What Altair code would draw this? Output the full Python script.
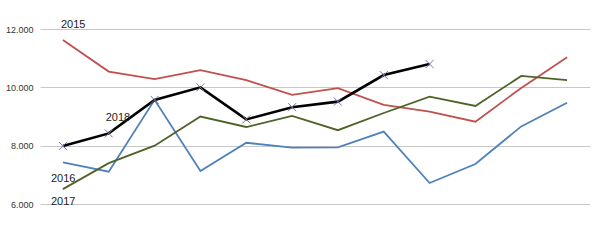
import altair as alt
import pandas as pd

months = list(range(1, 13))
s2015 = [11620, 10540, 10280, 10590, 10250, 9740, 9970, 9400, 9170, 8820, 9980, 11030]
s2016 = [7430, 7110, 9570, 7130, 8100, 7930, 7940, 8480, 6720, 7370, 8660, 9470]
s2017 = [6510, 7400, 8000, 9000, 8640, 9020, 8530, 9120, 9680, 9360, 10390, 10250]
s2018 = [7990, 8420, 9570, 10000, 8900, 9320, 9510, 10420, 10800]

series_names = ["2015", "2016", "2017", "2018"]
colors = ["#C0504D", "#4F81BD", "#4F6228", "#000000"]

rows = []
for name, vals in zip(series_names, [s2015, s2016, s2017, s2018]):
    for m, v in zip(months, vals):
        rows.append({"series": name, "month": m, "value": v})
df = pd.DataFrame(rows)

x = alt.X("month:O", axis=None, scale=alt.Scale(paddingInner=0, paddingOuter=0.5))
y = alt.Y("value:Q", scale=alt.Scale(domain=[6000, 12000], nice=False),
          axis=alt.Axis(values=[6000, 8000, 10000, 12000], title=None, domain=False, ticks=False,
                        labelExpr="replace(format(datum.value, ',d'), ',', '.')",
                        labelFontSize=9, labelColor="#333333", labelPadding=7, labelFont="Liberation Sans",
                        gridColor="#c8c8c8", gridWidth=1))

lines = alt.Chart(df).mark_line().encode(
    x=x, y=y,
    color=alt.Color("series:N", scale=alt.Scale(domain=series_names, range=colors), legend=None),
    strokeWidth=alt.condition(alt.datum.series == "2018", alt.value(2.6), alt.value(1.8)),
)

pts = alt.Chart(df[df.series == "2018"]).mark_point(
    shape="M -1 -1 L 1 1 M -1 1 L 1 -1", size=64, color="#7E6FA8",
    strokeWidth=1, filled=False, opacity=1).encode(x=x, y=y)

lab_font = dict(fontSize=11, font="Liberation Sans", color="#222222", align="left", baseline="middle")
def label(name, month_idx, dx, dy):
    sub = df[(df.series == name) & (df.month == months[month_idx])].copy()
    return alt.Chart(sub).mark_text(dx=dx, dy=dy, **lab_font).encode(
        x=x, y=y, text="series:N")

labels = [label("2015", 0, -2, -15), label("2018", 1, -3, -15),
          label("2016", 0, -12, 17), label("2017", 0, -12, 13)]

chart = alt.layer(lines, pts, *labels).properties(
    width=550, height=175,
    autosize=alt.AutoSizeParams(type="none"),
    padding={"left": 40, "top": 29, "right": 10, "bottom": 46},
).configure_view(stroke=None).configure_axis(grid=True)

chart.save("out.html", embed_options={"renderer": "svg", "actions": False})
